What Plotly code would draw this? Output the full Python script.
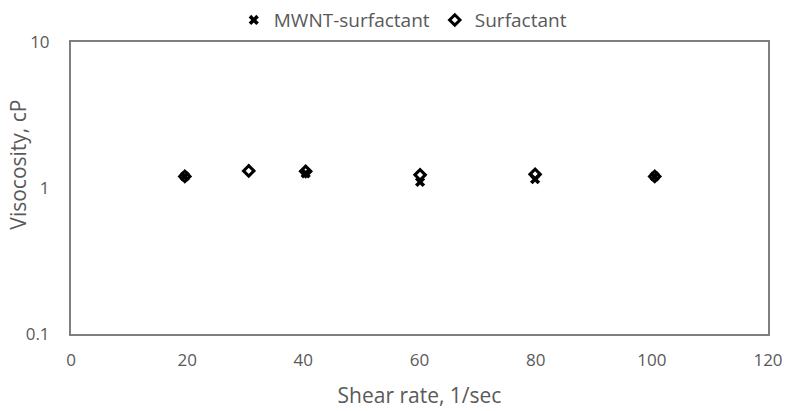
import plotly.graph_objects as go

# Shear rate (1/sec) and viscosity (cP) readings for each fluid
mwnt_shear = [19.6, 40.4, 60.1, 79.9, 100.5]
mwnt_visc = [1.20, 1.26, 1.10, 1.15, 1.20]

surf_shear = [19.6, 30.6, 40.4, 60.1, 79.9, 100.5]
surf_visc = [1.20, 1.31, 1.30, 1.23, 1.24, 1.20]

x_ticks = [0, 20, 40, 60, 80, 100, 120]
y_ticks = [0.1, 1, 10]
y_tick_text = ["0.1", "1", "10"]

font_family = "'Open Sans', 'Liberation Sans', Arial, sans-serif"
text_color = "#595959"

fig = go.Figure()
fig.add_trace(go.Scatter(
    x=mwnt_shear, y=mwnt_visc, mode="markers", name="MWNT-surfactant",
    marker=dict(symbol="x", size=9, color="black", line=dict(width=0)),
))
fig.add_trace(go.Scatter(
    x=surf_shear, y=surf_visc, mode="markers", name="Surfactant",
    marker=dict(symbol="diamond-open", size=8, color="black",
                line=dict(width=3, color="black")),
))

fig.update_layout(
    width=788, height=411,
    margin=dict(l=71, r=20, t=42, b=77, autoexpand=False),
    paper_bgcolor="white", plot_bgcolor="white",
    font=dict(family=font_family, size=17, color=text_color),
    showlegend=True,
    legend=dict(orientation="h", x=0.476, xanchor="center", y=1.075,
                yanchor="middle", bgcolor="rgba(0,0,0,0)",
                font=dict(size=19, color=text_color),
                itemwidth=30, tracegroupgap=0),
    xaxis=dict(
        range=[0, 120], tickvals=x_ticks, showgrid=False, zeroline=False,
        showline=True, linecolor="#7f7f7f", linewidth=2, mirror=True,
        automargin=False,
        ticks="", ticklabelstandoff=10, tickfont=dict(size=17, color=text_color),
        title=dict(text="Shear rate, 1/sec", font=dict(size=21, color=text_color),
                   standoff=18),
    ),
    yaxis=dict(
        type="log", range=[-1, 1], tickvals=y_ticks, ticktext=y_tick_text,
        showgrid=False, zeroline=False,
        showline=True, linecolor="#7f7f7f", linewidth=2, mirror=True,
        automargin=False,
        ticks="", ticklabelstandoff=16, tickfont=dict(size=17, color=text_color),
    ),
    annotations=[dict(
        text="Visocosity, cP", textangle=-90, showarrow=False,
        xref="paper", yref="paper", x=0, y=0.58, xshift=-53,
        xanchor="center", yanchor="middle",
        font=dict(size=21, color=text_color),
    )],
)

fig.write_html("out.html")
